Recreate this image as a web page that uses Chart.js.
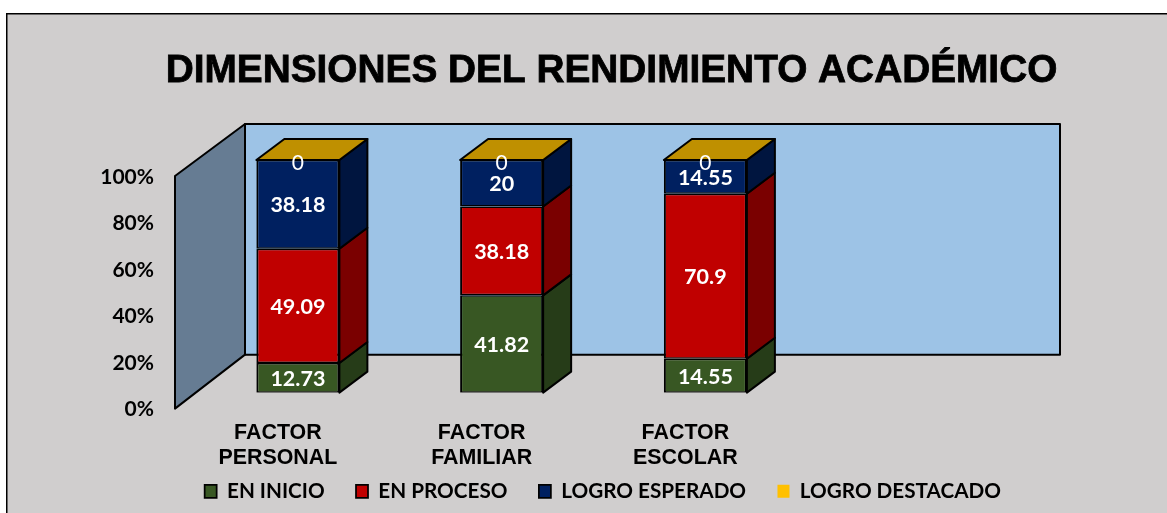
<!DOCTYPE html>
<html>
<head>
<meta charset="utf-8">
<title>Dimensiones del rendimiento academico</title>
<script src="https://cdn.jsdelivr.net/npm/chart.js@4"></script>
<style>
  body { margin: 0; background: #ffffff; }
  canvas { display: block; }
</style>
</head>
<body>
<canvas id="rendimientoChart" width="1167" height="513"></canvas>
<script>
const chartTitle = 'DIMENSIONES DEL RENDIMIENTO ACADÉMICO';
const categories = [['FACTOR', 'PERSONAL'], ['FACTOR', 'FAMILIAR'], ['FACTOR', 'ESCOLAR'], ''];
const seriesNames = ['EN INICIO', 'EN PROCESO', 'LOGRO ESPERADO', 'LOGRO DESTACADO'];
const enInicio = [12.73, 41.82, 14.55];
const enProceso = [49.09, 38.18, 70.9];
const logroEsperado = [38.18, 20, 14.55];
const logroDestacado = [0, 0, 0];

const FRONT = ['#385723', '#C00000', '#002060', '#FFC000'];
const SIDE = ['#263C18', '#7A0000', '#00153F', '#BF9000'];
const BAR_BORDER = { top: 1.5, bottom: 1.5, left: 2, right: 2 };

// depth of the bars, and of the walls measured from the plane of the bars
const BAR_DX = 28, BAR_DY = 21;
const WALL_FRONT_DX = 21, WALL_FRONT_DY = 16;
const WALL_BACK_DX = 49, WALL_BACK_TOP = 36, WALL_BACK_BOTTOM = 38;

function poly(ctx, pts, fill) {
  ctx.beginPath();
  ctx.moveTo(pts[0][0], pts[0][1]);
  for (const p of pts.slice(1)) ctx.lineTo(p[0], p[1]);
  ctx.closePath();
  ctx.fillStyle = fill;
  ctx.fill();
  ctx.stroke();
}

const threeD = {
  id: 'threeD',
  afterLayout(chart) {
    // legend and title sit by the picture, not by the plot
    const legend = chart.legend;
    legend.maxWidth = 1200;
    legend.fit();
    legend.left = 173.25;
    legend.right = 1300;
    legend.top = 481 - legend.options.labels.padding;
    const t = chart.titleBlock;
    t.left = 56;
    t.right = 1167;
  },
  beforeDraw(chart) {
    const ctx = chart.ctx;
    ctx.save();
    ctx.fillStyle = '#000000';
    ctx.fillRect(6, 13, 1161, 500);
    ctx.fillStyle = '#D0CECE';
    ctx.fillRect(7.5, 14.5, 1160, 499);
    ctx.restore();
  },
  beforeDatasetsDraw(chart) {
    const ctx = chart.ctx;
    const area = chart.chartArea;
    const y = chart.scales.y;
    const top = y.getPixelForValue(100), bottom = y.getPixelForValue(0);
    ctx.save();
    ctx.strokeStyle = '#000000';
    ctx.lineWidth = 2;
    ctx.lineJoin = 'round';
    // back wall and left wall
    poly(ctx, [
      [area.left + WALL_BACK_DX, top - WALL_BACK_TOP],
      [area.right + WALL_BACK_DX, top - WALL_BACK_TOP],
      [area.right + WALL_BACK_DX, bottom - WALL_BACK_BOTTOM],
      [area.left + WALL_BACK_DX, bottom - WALL_BACK_BOTTOM]
    ], '#9DC3E6');
    poly(ctx, [
      [area.left - WALL_FRONT_DX, top + WALL_FRONT_DY],
      [area.left + WALL_BACK_DX, top - WALL_BACK_TOP],
      [area.left + WALL_BACK_DX, bottom - WALL_BACK_BOTTOM],
      [area.left - WALL_FRONT_DX, bottom + WALL_FRONT_DY]
    ], '#667C93');
    // side faces of the bars, top face on the last series
    chart.data.datasets.forEach((ds, i) => {
      chart.getDatasetMeta(i).data.forEach(bar => {
        const r = bar.x + bar.width / 2, l = bar.x - bar.width / 2;
        if (bar.base - bar.y > 0.5) {
          poly(ctx, [
            [r, bar.y],
            [r + BAR_DX, bar.y - BAR_DY],
            [r + BAR_DX, bar.base - BAR_DY],
            [r, bar.base]
          ], SIDE[i]);
        }
        if (i === chart.data.datasets.length - 1) {
          poly(ctx, [
            [l, bar.y],
            [l + BAR_DX, bar.y - BAR_DY],
            [r + BAR_DX, bar.y - BAR_DY],
            [r, bar.y]
          ], SIDE[i]);
        }
      });
    });
    ctx.restore();
  },
  afterDraw(chart) {
    const ctx = chart.ctx;
    ctx.save();
    ctx.textAlign = 'center';
    ctx.textBaseline = 'middle';
    ctx.fillStyle = '#FFFFFF';
    chart.data.datasets.forEach((ds, i) => {
      chart.getDatasetMeta(i).data.forEach((bar, j) => {
        const v = ds.data[j];
        if (v === 0) {
          ctx.font = 'normal 21px Lato';
          ctx.fillText(String(v), bar.x, bar.y + 3);
        } else {
          ctx.font = 'bold 21.5px Lato';
          ctx.fillText(String(v), bar.x, (bar.y + bar.base) / 2 + 1);
        }
      });
    });
    // the title is heavier than plain bold
    const t = chart.titleBlock;
    ctx.font = 'bold 38.8px "Liberation Sans"';
    ctx.strokeStyle = '#000000';
    ctx.lineWidth = 0.8;
    ctx.strokeText(chartTitle, (t.left + t.right) / 2, t.top + t.options.padding.top + 23.3);
    ctx.restore();
  }
};

const rendimientoChart = new Chart(document.getElementById('rendimientoChart'), {
  type: 'bar',
  data: {
    labels: categories,
    datasets: [
      { label: seriesNames[0], data: enInicio, backgroundColor: FRONT[0], borderColor: '#000000', borderWidth: BAR_BORDER, borderSkipped: false },
      { label: seriesNames[1], data: enProceso, backgroundColor: FRONT[1], borderColor: '#000000', borderWidth: BAR_BORDER, borderSkipped: false },
      { label: seriesNames[2], data: logroEsperado, backgroundColor: FRONT[2], borderColor: '#000000', borderWidth: BAR_BORDER, borderSkipped: false },
      { label: seriesNames[3], data: logroDestacado, backgroundColor: FRONT[3], borderColor: FRONT[3], borderWidth: 0 }
    ]
  },
  options: {
    responsive: false,
    animation: false,
    categoryPercentage: 1,
    barPercentage: 0.4075,
    layout: { padding: { left: 6, right: 156, top: 0, bottom: -21.75 } },
    scales: {
      x: {
        stacked: true,
        afterFit(s) { s.height = 80; },
        grid: { display: false },
        border: { display: false },
        ticks: {
          color: '#000000',
          font: { family: '"Liberation Sans"', weight: 'bold', size: 21.4, lineHeight: 1.17 },
          padding: 20,
          labelOffset: -20,
          maxRotation: 0,
          autoSkip: false
        }
      },
      y: {
        stacked: true,
        min: 0,
        max: 100,
        afterFit(s) { s.width = 190; },
        grid: { display: false, drawTicks: false },
        border: { display: false },
        ticks: {
          stepSize: 20,
          color: '#000000',
          font: { family: 'Lato', weight: 'bold', size: 21 },
          padding: 42,
          labelOffset: 17,
          callback: v => v + '%'
        }
      }
    },
    plugins: {
      title: {
        display: true,
        text: chartTitle,
        color: '#000000',
        font: { family: '"Liberation Sans"', weight: 'bold', size: 38.8, lineHeight: 1.2 },
        padding: { top: 48, bottom: 65.4 }
      },
      legend: {
        position: 'bottom',
        align: 'start',
        labels: {
          color: '#000000',
          font: { family: 'Lato', weight: 'bold', size: 20.7 },
          boxWidth: 12,
          boxHeight: 13,
          padding: 31.4
        }
      },
      tooltip: { enabled: false }
    }
  },
  plugins: [threeD]
});
</script>
</body>
</html>
